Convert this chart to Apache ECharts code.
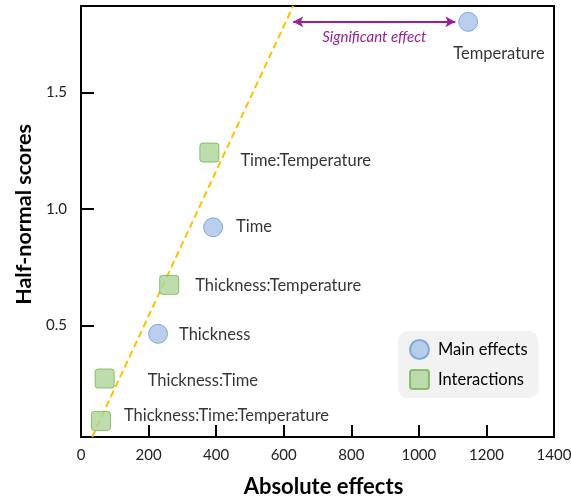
<!DOCTYPE html>
<html>
<head>
<meta charset="utf-8">
<script src="https://cdn.jsdelivr.net/npm/echarts@6/dist/echarts.min.js"></script>
<style>
  html, body { margin: 0; padding: 0; background: #fff; }
  #mychart { width: 571px; height: 496px; }
</style>
</head>
<body>
<div id="mychart"></div>
<script>
// main effects (circles)
var mainNames = ['Thickness', 'Time', 'Temperature'];
var mainEffects = [228, 391, 1146];
var mainScores = [0.464, 0.921, 1.803];

// interactions (squares)
var interNames = ['Thickness:Time:Temperature', 'Thickness:Time', 'Thickness:Temperature', 'Time:Temperature'];
var interEffects = [59, 70, 261, 380];
var interScores = [0.090, 0.272, 0.674, 1.242];

// dashed reference line end points
var refLineX = [33, 628];
var refLineY = [0.021, 1.871];

// "significant effect" arrow
var arrowX = [628, 1108];
var arrowY = 1.803;

var yTicks = [0.5, 1.0, 1.5];

var FONT = 'Lato';

// label offsets from the marker, per name
var labelOffsets = {
    'Thickness': [11, 1],
    'Time': [13, -1],
    'Temperature': [-15, 13],
    'Thickness:Time:Temperature': [13, -5],
    'Thickness:Time': [33, 2],
    'Thickness:Temperature': [16, 1],
    'Time:Temperature': [21, 8]
};

function buildPoints(names, xs, ys) {
    var out = [];
    for (var i = 0; i < names.length; i++) {
        var off = labelOffsets[names[i]];
        var lab = {offset: off};
        if (names[i] === 'Temperature') {
            lab = {position: 'bottom', align: 'left', offset: off};
        }
        out.push({name: names[i], value: [xs[i], ys[i]], label: lab});
    }
    return out;
}

var myChart = echarts.init(document.getElementById('mychart'));

var option = {
    animation: false,
    textStyle: {fontFamily: FONT},
    grid: {
        left: 81, top: 6, right: 17, bottom: 59,
        outerBoundsMode: 'none',
        containLabel: false,
        show: true, borderColor: '#000', borderWidth: 2, backgroundColor: 'transparent'
    },
    legend: {
        left: 398, top: 331,
        orient: 'vertical',
        backgroundColor: '#F2F2F2',
        borderRadius: 10,
        padding: [8, 11, 8, 11],
        itemGap: 9,
        itemWidth: 19, itemHeight: 19,
        textStyle: {fontFamily: FONT, fontSize: 16.5, color: '#000', padding: [0, 0, 0, 4]},
        data: ['Main effects', 'Interactions']
    },
    xAxis: {
        type: 'value', min: 0, max: 1400, interval: 200,
        name: 'Absolute effects', nameLocation: 'middle', nameGap: 39,
        nameTextStyle: {fontFamily: FONT, fontSize: 22, fontWeight: 'bold', color: '#000', padding: [0, 0, 0, 12]},
        axisLine: {show: true, lineStyle: {color: '#000', width: 2}},
        axisTick: {show: true, inside: true, length: 12, lineStyle: {color: '#000', width: 2}},
        axisLabel: {
            fontFamily: FONT, fontSize: 15, color: '#222', margin: 11,
            showMinLabel: true, showMaxLabel: true,
            formatter: function (v) { return String(v); }
        },
        splitLine: {show: false}
    },
    yAxis: {
        type: 'value', min: refLineY[0], max: refLineY[1],
        name: 'Half-normal scores', nameLocation: 'middle', nameGap: 45,
        nameTextStyle: {fontFamily: FONT, fontSize: 21.5, fontWeight: 'bold', color: '#000', padding: [0, 0, 0, 14]},
        axisLine: {show: true, lineStyle: {color: '#000', width: 2}},
        axisTick: {show: true, inside: true, length: 13, customValues: yTicks, lineStyle: {color: '#000', width: 2}},
        axisLabel: {
            fontFamily: FONT, fontSize: 15, color: '#222', margin: 14,
            customValues: yTicks,
            formatter: function (v) { return v.toFixed(1); }
        },
        splitLine: {show: false}
    },
    series: [
        {
            name: 'ref',
            type: 'line',
            data: [[refLineX[0], refLineY[0]], [refLineX[1], refLineY[1]]],
            symbol: 'none',
            lineStyle: {color: '#FFC000', width: 2, type: [7, 4]},
            silent: true,
            z: 1,
            markLine: {
                silent: true,
                symbol: ['arrow', 'arrow'],
                symbolSize: [8, 10],
                lineStyle: {color: '#9C1E9C', width: 2, type: 'solid'},
                label: {
                    show: true, position: 'insideMiddleBottom', distance: 8,
                    formatter: 'Significant effect',
                    fontFamily: FONT, fontSize: 15, fontStyle: 'italic', color: '#9C1E9C'
                },
                data: [[{coord: [arrowX[0], arrowY]}, {coord: [arrowX[1], arrowY]}]]
            }
        },
        {
            name: 'Main effects',
            type: 'scatter',
            symbol: 'circle',
            symbolSize: 19,
            itemStyle: {color: '#A7C3E8', borderColor: '#6A9BD6', borderWidth: 1},
            label: {
                show: true, position: 'right', distance: 0,
                formatter: '{b}', fontFamily: FONT, fontSize: 16.5, color: '#000'
            },
            data: buildPoints(mainNames, mainEffects, mainScores),
            z: 3
        },
        {
            name: 'Interactions',
            type: 'scatter',
            symbol: 'path://M3,0 H17 Q20,0 20,3 V17 Q20,20 17,20 H3 Q0,20 0,17 V3 Q0,0 3,0 Z',
            symbolSize: 19,
            itemStyle: {color: '#AED49A', borderColor: '#76B350', borderWidth: 1},
            label: {
                show: true, position: 'right', distance: 0,
                formatter: '{b}', fontFamily: FONT, fontSize: 16.5, color: '#000'
            },
            data: buildPoints(interNames, interEffects, interScores),
            z: 3
        }
    ]
};

if (option && typeof option === "object") {
    myChart.setOption(option, true);
}
</script>
</body>
</html>
